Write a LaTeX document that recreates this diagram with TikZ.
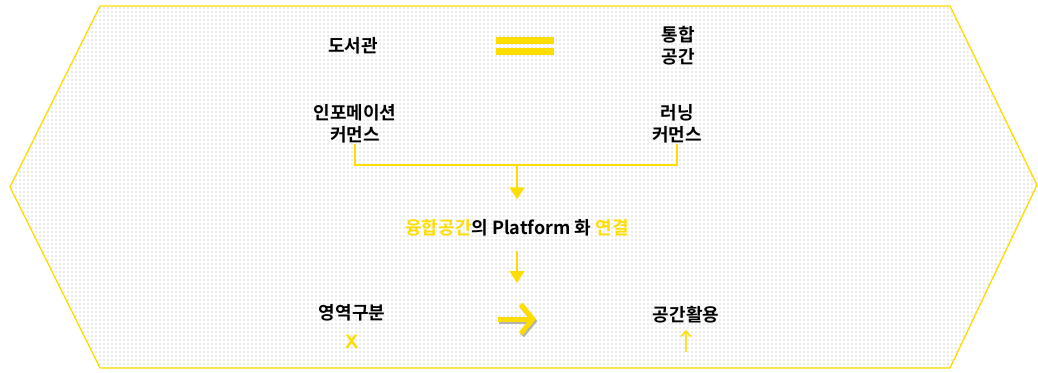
\documentclass[tikz,border=0pt]{standalone}
\usepackage{fontspec}
\newfontfamily\kr{Noto Sans CJK KR}[BoldFont={Noto Sans CJK KR Bold}]
\newfontfamily\sym{DejaVu Sans}
\usetikzlibrary{positioning,arrows.meta,patterns}
\definecolor{ylw}{RGB}{255,221,0}

\begin{document}
\begin{tikzpicture}[x=0.75pt,y=-0.75pt,>={Triangle[width=11pt,length=9pt]},
    word/.style={rectangle,inner sep=0pt,align=center,
      font=\kr\bfseries\fontsize{13.5}{16.5}\selectfont},
    bar/.style={rectangle,fill=ylw,inner sep=0pt,minimum width=43.5pt,
      minimum height=5.25pt},
    link/.style={draw=ylw,line width=1.5pt}]
  \useasboundingbox (0,0) rectangle (1038,372);
  % hexagon background
  \draw[ylw,line width=1pt,pattern=dots,pattern color=gray!70]
    (100,6) -- (950,6) -- (1037,185) -- (950,368) -- (100,368)
    -- (10,187) -- cycle;

  \node[word] (lib) at (353,46) {도서관};
  \node[bar] (same1) at (525,40.5) {};
  \node[bar] (same2) at (525,51) {};
  \node[word] (uni) at (678,46) {통합\\공간};
  \node[word] (info) at (355,124) {인포메이션\\커먼스};
  \node[word] (learn) at (677,124) {러닝\\커먼스};
  \node[word] (plat) at (517,228)
    {\textcolor{ylw}{융합공간}의 Platform 화 \textcolor{ylw}{연결}};
  \node[word] (area) at (352,313) {영역구분};
  \node[word] (use) at (686,315) {공간활용};
  \node[word,text=ylw,font=\sffamily\bfseries\Large] (no) at (352,342) {X};
  \node[word,text=ylw,font=\kr\fontsize{18}{18}\selectfont] (up)
    at (686,341) {↑};

  \coordinate (join) at (517,165);
  \coordinate (drop) at (517,283);
  \coordinate (go) at (498,319);
  \coordinate (goend) at (536,319);

  \draw[link] (info.south) |- (join) -| (learn.south);
  \draw[link,->,shorten >=15pt] (join) -- (plat.north);
  \draw[link,->,shorten <=11pt] (plat.south) -- (drop);
  \draw[gray!60,line width=3.75pt,
    -{Straight Barb[length=9pt,width=22pt]},transform canvas={xshift=1pt,yshift=-1.5pt}]
    (go) -- (goend);
  \draw[ylw,line width=3.75pt,-{Straight Barb[length=9pt,width=22pt]}]
    (go) -- (goend);
\end{tikzpicture}
\end{document}
